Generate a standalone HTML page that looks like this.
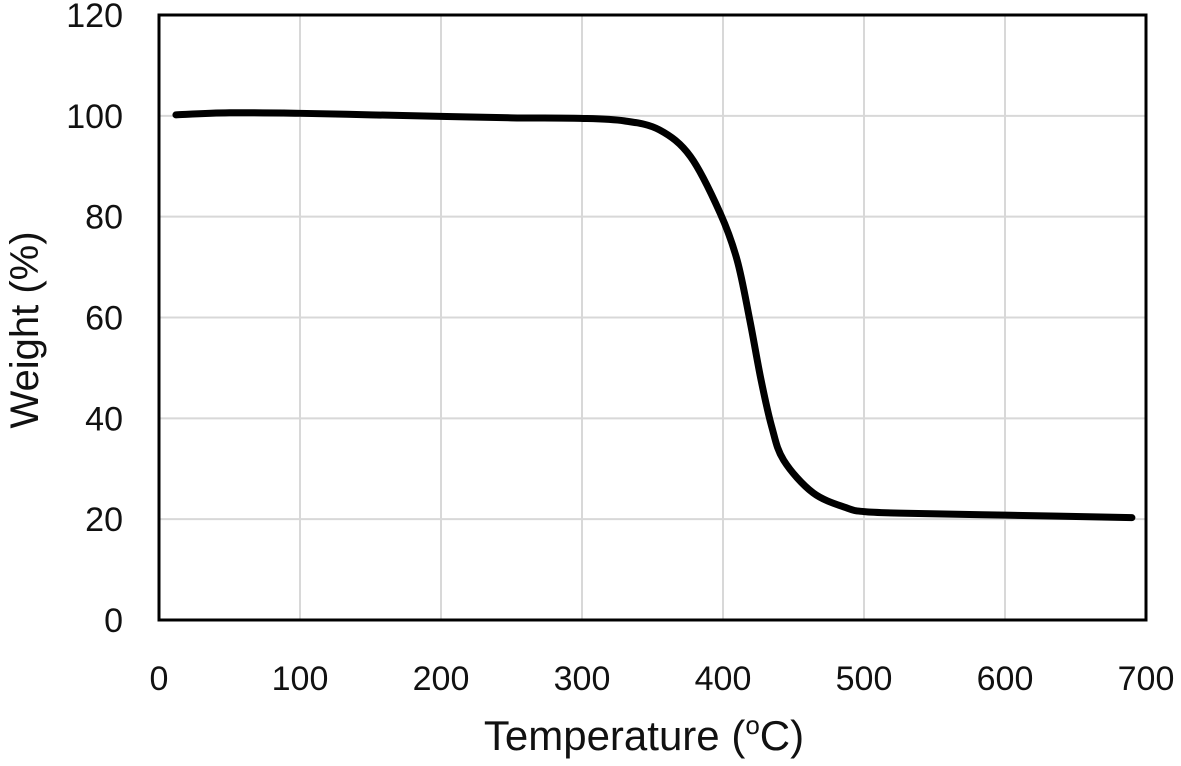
<!DOCTYPE html>
<html><head><meta charset="utf-8"><style>
html,body{margin:0;padding:0;background:#fff;}
svg text{font-family:"Liberation Sans",sans-serif;fill:#111;}
</style></head><body>
<svg id="chart" width="1181" height="761">
<g id="grid"></g>
<g id="ticks"></g>
<path id="curve" fill="none" stroke="#000" stroke-width="7" stroke-linejoin="round" stroke-linecap="round"/>
<rect x="159" y="15" width="987" height="605" fill="none" stroke="#000" stroke-width="3"/>
<text x="644" y="750" font-size="42" text-anchor="middle">Temperature (<tspan font-size="26" dy="-16">o</tspan><tspan dy="16">C)</tspan></text>
<text transform="translate(38,330) rotate(-90)" font-size="40" text-anchor="middle">Weight (%)</text>
</svg>
<script>
const xTicks=[0,100,200,300,400,500,600,700];
const yTicks=[0,20,40,60,80,100,120];
const temps=[12,50,100,150,200,250,299,330,355,377,398,410,419,427,434.5,443,464,488,500,525,600,690];
const weights=[100.2,100.6,100.5,100.2,99.9,99.6,99.5,99,97.2,91.9,80.7,71.4,59.5,47.6,38.4,31.7,25.2,22.2,21.5,21.2,20.8,20.3];
const X0=159,X1=1146,Y0=620,Y1=15;
const xs=v=>X0+(v-0)/700*(X1-X0);
const ys=v=>Y0-(v-0)/120*(Y0-Y1);
const NS="http://www.w3.org/2000/svg";
const grid=document.getElementById('grid'),ticks=document.getElementById('ticks');
xTicks.forEach(t=>{
  if(t>0&&t<700){const l=document.createElementNS(NS,'line');
  l.setAttribute('x1',xs(t));l.setAttribute('x2',xs(t));l.setAttribute('y1',Y1);l.setAttribute('y2',Y0);
  l.setAttribute('stroke','#d8d8d8');l.setAttribute('stroke-width','2');
  
  
  grid.appendChild(l);}
  const tx=document.createElementNS(NS,'text');
  tx.setAttribute('x',xs(t));tx.setAttribute('y',690);tx.setAttribute('font-size','34');tx.setAttribute('text-anchor','middle');
  tx.textContent=t;
  
  
  ticks.appendChild(tx);
});
yTicks.forEach(t=>{
  if(t>0&&t<120){const l=document.createElementNS(NS,'line');
  l.setAttribute('x1',X0);l.setAttribute('x2',X1);l.setAttribute('y1',ys(t));l.setAttribute('y2',ys(t));
  l.setAttribute('stroke','#d8d8d8');l.setAttribute('stroke-width','2');
  
  
  grid.appendChild(l);}
  const tx=document.createElementNS(NS,'text');
  tx.setAttribute('x',123);tx.setAttribute('y',ys(t)+12);tx.setAttribute('font-size','34');tx.setAttribute('text-anchor','end');
  tx.textContent=t;
  
  
  ticks.appendChild(tx);
});
const pts=temps.map((t,i)=>[xs(t),ys(weights[i])]);
let d='M'+pts[0][0]+','+pts[0][1];
for(let i=0;i<pts.length-1;i++){
  const p0=pts[Math.max(0,i-1)],p1=pts[i],p2=pts[i+1],p3=pts[Math.min(pts.length-1,i+2)];
  const c1=[p1[0]+(p2[0]-p0[0])/6,p1[1]+(p2[1]-p0[1])/6];
  const c2=[p2[0]-(p3[0]-p1[0])/6,p2[1]-(p3[1]-p1[1])/6];
  d+=' C'+c1+' '+c2+' '+p2;
}
document.getElementById('curve').setAttribute('d',d);
</script>
</body></html>
